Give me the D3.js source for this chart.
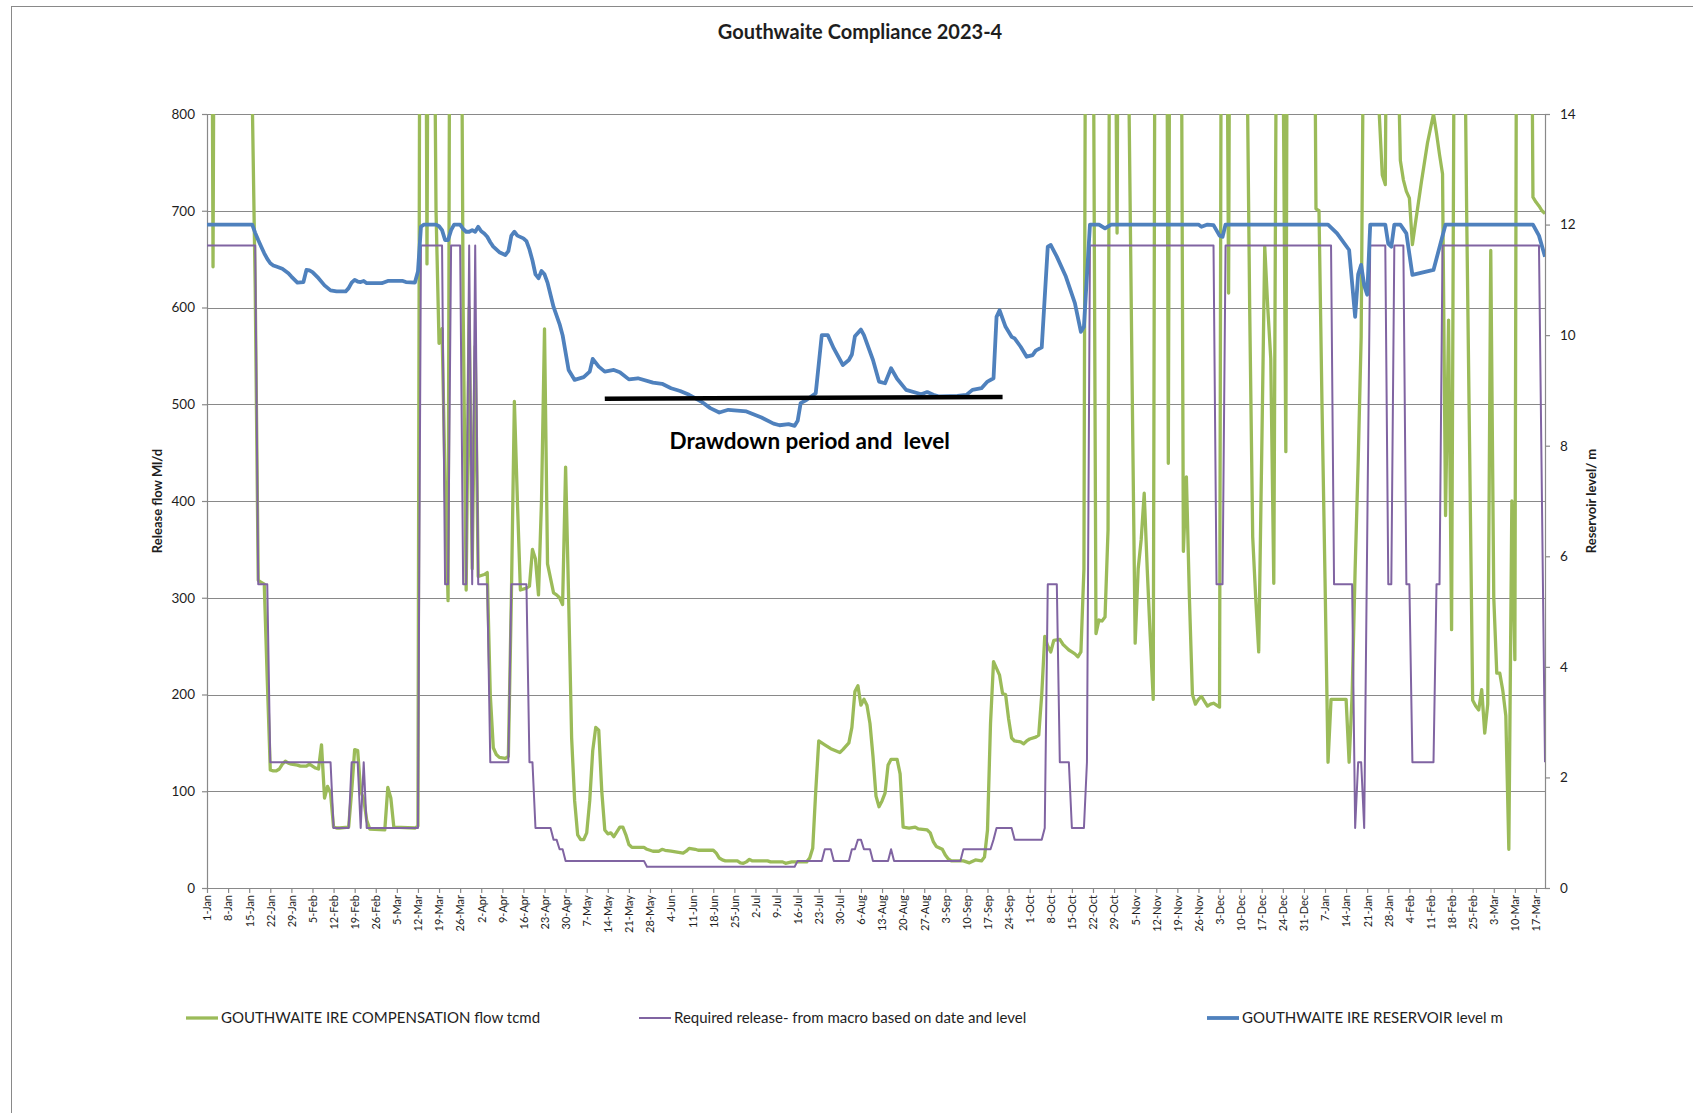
<!DOCTYPE html>
<html>
<head>
<meta charset="utf-8">
<title>Gouthwaite Compliance 2023-4</title>
<script src="https://cdn.jsdelivr.net/npm/d3@7"></script>
<style>
  html, body { margin: 0; padding: 0; background: #ffffff; }
  svg { display: block; font-family: Lato, 'Open Sans', sans-serif; }
</style>
</head>
<body>
<div id="chart"></div>
<script>
// Values (daily series, only turning points kept)
const compensationFlow = [
  ['1-Jan-23', 1500], ['2-Jan-23', 1500], ['3-Jan-23', 642], ['4-Jan-23', 1500], ['15-Jan-23', 1500],
  ['16-Jan-23', 820], ['17-Jan-23', 620], ['18-Jan-23', 318], ['19-Jan-23', 316], ['20-Jan-23', 314],
  ['21-Jan-23', 215], ['22-Jan-23', 122], ['23-Jan-23', 121], ['24-Jan-23', 121], ['25-Jan-23', 123],
  ['26-Jan-23', 128], ['27-Jan-23', 131], ['28-Jan-23', 129], ['29-Jan-23', 128], ['31-Jan-23', 127],
  ['1-Feb-23', 126], ['3-Feb-23', 126], ['4-Feb-23', 128], ['5-Feb-23', 126], ['6-Feb-23', 124],
  ['7-Feb-23', 123], ['8-Feb-23', 148], ['9-Feb-23', 93], ['10-Feb-23', 105], ['11-Feb-23', 98],
  ['12-Feb-23', 63], ['13-Feb-23', 62], ['14-Feb-23', 62], ['17-Feb-23', 63], ['18-Feb-23', 100],
  ['19-Feb-23', 143], ['20-Feb-23', 142], ['21-Feb-23', 100], ['22-Feb-23', 92], ['23-Feb-23', 70],
  ['24-Feb-23', 61], ['1-Mar-23', 60], ['2-Mar-23', 104], ['3-Mar-23', 93], ['4-Mar-23', 63],
  ['11-Mar-23', 62], ['12-Mar-23', 64], ['13-Mar-23', 1500], ['14-Mar-23', 1500], ['15-Mar-23', 645],
  ['16-Mar-23', 1500], ['17-Mar-23', 1100], ['18-Mar-23', 700], ['19-Mar-23', 563], ['20-Mar-23', 578],
  ['21-Mar-23', 420], ['22-Mar-23', 297], ['23-Mar-23', 1500], ['26-Mar-23', 1200], ['27-Mar-23', 600],
  ['28-Mar-23', 308], ['29-Mar-23', 600], ['30-Mar-23', 330], ['31-Mar-23', 560], ['1-Apr-23', 322],
  ['3-Apr-23', 324], ['4-Apr-23', 326], ['5-Apr-23', 200], ['6-Apr-23', 145], ['7-Apr-23', 138],
  ['8-Apr-23', 135], ['10-Apr-23', 134], ['11-Apr-23', 136], ['12-Apr-23', 300], ['13-Apr-23', 503],
  ['14-Apr-23', 400], ['15-Apr-23', 308], ['17-Apr-23', 310], ['18-Apr-23', 312], ['19-Apr-23', 350],
  ['20-Apr-23', 340], ['21-Apr-23', 303], ['22-Apr-23', 400], ['23-Apr-23', 578], ['24-Apr-23', 335],
  ['25-Apr-23', 320], ['26-Apr-23', 305], ['27-Apr-23', 303], ['28-Apr-23', 300], ['29-Apr-23', 293],
  ['30-Apr-23', 435], ['1-May-23', 300], ['2-May-23', 155], ['3-May-23', 90], ['4-May-23', 55],
  ['5-May-23', 50], ['6-May-23', 50], ['7-May-23', 57], ['8-May-23', 90], ['9-May-23', 142],
  ['10-May-23', 166], ['11-May-23', 163], ['12-May-23', 100], ['13-May-23', 60], ['14-May-23', 56],
  ['15-May-23', 57], ['16-May-23', 53], ['17-May-23', 58], ['18-May-23', 63], ['19-May-23', 63],
  ['20-May-23', 55], ['21-May-23', 45], ['22-May-23', 42], ['26-May-23', 42], ['27-May-23', 40],
  ['29-May-23', 38], ['31-May-23', 38], ['1-Jun-23', 40], ['2-Jun-23', 39], ['4-Jun-23', 38],
  ['6-Jun-23', 37], ['8-Jun-23', 36], ['9-Jun-23', 38], ['10-Jun-23', 41], ['12-Jun-23', 40],
  ['13-Jun-23', 39], ['18-Jun-23', 39], ['19-Jun-23', 36], ['20-Jun-23', 31], ['21-Jun-23', 29],
  ['22-Jun-23', 28], ['26-Jun-23', 28], ['27-Jun-23', 26], ['28-Jun-23', 25.5], ['29-Jun-23', 27],
  ['30-Jun-23', 29.6], ['1-Jul-23', 28], ['6-Jul-23', 28], ['7-Jul-23', 27], ['11-Jul-23', 27],
  ['12-Jul-23', 25.5], ['14-Jul-23', 27], ['19-Jul-23', 27], ['20-Jul-23', 31], ['21-Jul-23', 41],
  ['22-Jul-23', 100], ['23-Jul-23', 152], ['25-Jul-23', 148], ['27-Jul-23', 144], ['30-Jul-23', 140],
  ['31-Jul-23', 143], ['2-Aug-23', 150], ['3-Aug-23', 166], ['4-Aug-23', 203], ['5-Aug-23', 209],
  ['6-Aug-23', 189], ['7-Aug-23', 195], ['8-Aug-23', 189], ['9-Aug-23', 170], ['10-Aug-23', 136],
  ['11-Aug-23', 95], ['12-Aug-23', 84], ['13-Aug-23', 90], ['14-Aug-23', 98], ['15-Aug-23', 127],
  ['16-Aug-23', 133], ['18-Aug-23', 133], ['19-Aug-23', 118], ['20-Aug-23', 63], ['22-Aug-23', 62],
  ['24-Aug-23', 63], ['25-Aug-23', 61], ['28-Aug-23', 60], ['29-Aug-23', 57], ['30-Aug-23', 48],
  ['31-Aug-23', 43], ['2-Sep-23', 40], ['3-Sep-23', 34], ['4-Sep-23', 30], ['5-Sep-23', 28],
  ['9-Sep-23', 28], ['11-Sep-23', 26], ['13-Sep-23', 29], ['15-Sep-23', 28], ['16-Sep-23', 32],
  ['17-Sep-23', 60], ['18-Sep-23', 170], ['19-Sep-23', 234], ['20-Sep-23', 227], ['21-Sep-23', 220],
  ['22-Sep-23', 201], ['23-Sep-23', 200], ['24-Sep-23', 175], ['25-Sep-23', 155], ['26-Sep-23', 152],
  ['28-Sep-23', 151], ['29-Sep-23', 149], ['30-Sep-23', 152], ['1-Oct-23', 154], ['3-Oct-23', 156],
  ['4-Oct-23', 158], ['5-Oct-23', 200], ['6-Oct-23', 260], ['7-Oct-23', 250], ['8-Oct-23', 244],
  ['9-Oct-23', 256], ['11-Oct-23', 257], ['12-Oct-23', 252], ['13-Oct-23', 249], ['14-Oct-23', 246],
  ['15-Oct-23', 244], ['16-Oct-23', 242], ['17-Oct-23', 239], ['18-Oct-23', 244], ['19-Oct-23', 330],
  ['20-Oct-23', 1500], ['22-Oct-23', 1000], ['23-Oct-23', 263], ['24-Oct-23', 277], ['25-Oct-23', 276],
  ['26-Oct-23', 280], ['27-Oct-23', 370], ['28-Oct-23', 1500], ['29-Oct-23', 1100], ['30-Oct-23', 677],
  ['31-Oct-23', 1500], ['2-Nov-23', 1200], ['3-Nov-23', 800], ['4-Nov-23', 520], ['5-Nov-23', 253],
  ['6-Nov-23', 330], ['7-Nov-23', 360], ['8-Nov-23', 408], ['9-Nov-23', 330], ['10-Nov-23', 260],
  ['11-Nov-23', 195], ['12-Nov-23', 1500], ['15-Nov-23', 1500], ['16-Nov-23', 439], ['17-Nov-23', 1500],
  ['20-Nov-23', 1200], ['21-Nov-23', 348], ['22-Nov-23', 425], ['23-Nov-23', 300], ['24-Nov-23', 200],
  ['25-Nov-23', 190], ['26-Nov-23', 195], ['27-Nov-23', 198], ['28-Nov-23', 193], ['29-Nov-23', 188],
  ['30-Nov-23', 190], ['1-Dec-23', 191], ['2-Dec-23', 189], ['3-Dec-23', 187], ['4-Dec-23', 1500],
  ['5-Dec-23', 1200], ['6-Dec-23', 615], ['7-Dec-23', 1500], ['11-Dec-23', 1300], ['12-Dec-23', 900],
  ['13-Dec-23', 600], ['14-Dec-23', 363], ['15-Dec-23', 300], ['16-Dec-23', 244], ['17-Dec-23', 450],
  ['18-Dec-23', 663], ['19-Dec-23', 600], ['20-Dec-23', 547], ['21-Dec-23', 315], ['22-Dec-23', 1000],
  ['23-Dec-23', 1500], ['24-Dec-23', 900], ['25-Dec-23', 451], ['26-Dec-23', 1500], ['3-Jan-24', 1200],
  ['4-Jan-24', 702], ['5-Jan-24', 700], ['6-Jan-24', 500], ['7-Jan-24', 320], ['8-Jan-24', 130],
  ['9-Jan-24', 195], ['14-Jan-24', 195], ['15-Jan-24', 130], ['16-Jan-24', 200], ['17-Jan-24', 330],
  ['18-Jan-24', 440], ['19-Jan-24', 570], ['20-Jan-24', 1000], ['21-Jan-24', 1500], ['24-Jan-24', 1300],
  ['25-Jan-24', 800], ['26-Jan-24', 737], ['27-Jan-24', 727], ['28-Jan-24', 1200], ['30-Jan-24', 1500],
  ['31-Jan-24', 900], ['1-Feb-24', 752], ['2-Feb-24', 732], ['3-Feb-24', 720], ['4-Feb-24', 713],
  ['5-Feb-24', 665], ['6-Feb-24', 687], ['8-Feb-24', 730], ['10-Feb-24', 770], ['12-Feb-24', 800],
  ['13-Feb-24', 780], ['14-Feb-24', 758], ['15-Feb-24', 738], ['16-Feb-24', 385], ['17-Feb-24', 587],
  ['18-Feb-24', 267], ['19-Feb-24', 1000], ['20-Feb-24', 1500], ['22-Feb-24', 1000], ['23-Feb-24', 700],
  ['24-Feb-24', 450], ['25-Feb-24', 194], ['26-Feb-24', 188], ['27-Feb-24', 184], ['28-Feb-24', 205],
  ['29-Feb-24', 160], ['1-Mar-24', 190], ['2-Mar-24', 659], ['3-Mar-24', 300], ['4-Mar-24', 222],
  ['5-Mar-24', 222], ['6-Mar-24', 204], ['7-Mar-24', 178], ['8-Mar-24', 40], ['9-Mar-24', 400],
  ['10-Mar-24', 236], ['11-Mar-24', 1500], ['15-Mar-24', 1200], ['16-Mar-24', 714], ['17-Mar-24', 709],
  ['18-Mar-24', 705], ['19-Mar-24', 700], ['20-Mar-24', 697]
];

const requiredRelease = [
  ['1-Jan-23', 664], ['17-Jan-23', 664], ['18-Jan-23', 314], ['21-Jan-23', 314], ['22-Jan-23', 130],
  ['11-Feb-23', 130], ['12-Feb-23', 62], ['17-Feb-23', 62], ['18-Feb-23', 130], ['20-Feb-23', 130],
  ['21-Feb-23', 62], ['22-Feb-23', 130], ['23-Feb-23', 62], ['12-Mar-23', 62], ['13-Mar-23', 664],
  ['20-Mar-23', 664], ['21-Mar-23', 314], ['22-Mar-23', 314], ['23-Mar-23', 664], ['26-Mar-23', 664],
  ['27-Mar-23', 314], ['28-Mar-23', 314], ['29-Mar-23', 664], ['30-Mar-23', 314], ['31-Mar-23', 664],
  ['1-Apr-23', 314], ['4-Apr-23', 314], ['5-Apr-23', 130], ['11-Apr-23', 130], ['12-Apr-23', 314],
  ['17-Apr-23', 314], ['18-Apr-23', 130], ['19-Apr-23', 130], ['20-Apr-23', 62], ['25-Apr-23', 62],
  ['26-Apr-23', 50], ['27-Apr-23', 50], ['28-Apr-23', 40], ['29-Apr-23', 40], ['30-Apr-23', 28],
  ['26-May-23', 28], ['27-May-23', 22], ['15-Jul-23', 22], ['16-Jul-23', 28], ['24-Jul-23', 28],
  ['25-Jul-23', 40], ['27-Jul-23', 40], ['28-Jul-23', 28], ['2-Aug-23', 28], ['3-Aug-23', 40],
  ['4-Aug-23', 40], ['5-Aug-23', 50], ['6-Aug-23', 50], ['7-Aug-23', 40], ['9-Aug-23', 40],
  ['10-Aug-23', 28], ['15-Aug-23', 28], ['16-Aug-23', 40], ['17-Aug-23', 28], ['8-Sep-23', 28],
  ['9-Sep-23', 40], ['18-Sep-23', 40], ['19-Sep-23', 50], ['20-Sep-23', 62], ['25-Sep-23', 62],
  ['26-Sep-23', 50], ['5-Oct-23', 50], ['6-Oct-23', 62], ['7-Oct-23', 314], ['10-Oct-23', 314],
  ['11-Oct-23', 130], ['14-Oct-23', 130], ['15-Oct-23', 62], ['19-Oct-23', 62], ['20-Oct-23', 130],
  ['21-Oct-23', 664], ['1-Dec-23', 664], ['2-Dec-23', 314], ['4-Dec-23', 314], ['5-Dec-23', 664],
  ['9-Jan-24', 664], ['10-Jan-24', 314], ['16-Jan-24', 314], ['17-Jan-24', 62], ['18-Jan-24', 130],
  ['19-Jan-24', 130], ['20-Jan-24', 62], ['22-Jan-24', 664], ['27-Jan-24', 664], ['28-Jan-24', 314],
  ['29-Jan-24', 314], ['30-Jan-24', 664], ['2-Feb-24', 664], ['3-Feb-24', 314], ['4-Feb-24', 314],
  ['5-Feb-24', 130], ['12-Feb-24', 130], ['13-Feb-24', 314], ['14-Feb-24', 314], ['15-Feb-24', 664],
  ['18-Mar-24', 664], ['20-Mar-24', 130]
];

const reservoirLevel = [
  ['1-Jan-23', 12.0], ['16-Jan-23', 12.0], ['17-Jan-23', 11.85], ['18-Jan-23', 11.72], ['19-Jan-23', 11.6],
  ['20-Jan-23', 11.48], ['21-Jan-23', 11.38], ['22-Jan-23', 11.3], ['23-Jan-23', 11.26], ['24-Jan-23', 11.24],
  ['26-Jan-23', 11.2], ['28-Jan-23', 11.12], ['29-Jan-23', 11.06], ['31-Jan-23', 10.95], ['2-Feb-23', 10.96],
  ['3-Feb-23', 11.18], ['4-Feb-23', 11.17], ['5-Feb-23', 11.14], ['7-Feb-23', 11.03], ['9-Feb-23', 10.9],
  ['11-Feb-23', 10.81], ['13-Feb-23', 10.79], ['16-Feb-23', 10.79], ['17-Feb-23', 10.85], ['18-Feb-23', 10.95],
  ['19-Feb-23', 11.0], ['20-Feb-23', 10.97], ['21-Feb-23', 10.96], ['22-Feb-23', 10.98], ['23-Feb-23', 10.94],
  ['28-Feb-23', 10.94], ['2-Mar-23', 10.98], ['7-Mar-23', 10.98], ['8-Mar-23', 10.96], ['11-Mar-23', 10.95],
  ['12-Mar-23', 11.15], ['13-Mar-23', 11.96], ['14-Mar-23', 12.0], ['18-Mar-23', 12.0], ['19-Mar-23', 11.97],
  ['20-Mar-23', 11.9], ['21-Mar-23', 11.72], ['22-Mar-23', 11.72], ['23-Mar-23', 11.9], ['24-Mar-23', 12.0],
  ['26-Mar-23', 12.0], ['27-Mar-23', 11.92], ['28-Mar-23', 11.87], ['29-Mar-23', 11.87], ['30-Mar-23', 11.9],
  ['31-Mar-23', 11.87], ['1-Apr-23', 11.96], ['2-Apr-23', 11.88], ['3-Apr-23', 11.84], ['4-Apr-23', 11.78],
  ['5-Apr-23', 11.68], ['6-Apr-23', 11.6], ['8-Apr-23', 11.5], ['10-Apr-23', 11.45], ['11-Apr-23', 11.52],
  ['12-Apr-23', 11.8], ['13-Apr-23', 11.87], ['14-Apr-23', 11.8], ['16-Apr-23', 11.75], ['17-Apr-23', 11.7],
  ['18-Apr-23', 11.55], ['19-Apr-23', 11.35], ['20-Apr-23', 11.1], ['21-Apr-23', 11.03], ['22-Apr-23', 11.16],
  ['23-Apr-23', 11.1], ['24-Apr-23', 10.95], ['26-Apr-23', 10.51], ['28-Apr-23', 10.2], ['29-Apr-23', 10.0],
  ['1-May-23', 9.37], ['3-May-23', 9.19], ['6-May-23', 9.24], ['8-May-23', 9.34], ['9-May-23', 9.57],
  ['11-May-23', 9.43], ['13-May-23', 9.34], ['16-May-23', 9.37], ['18-May-23', 9.33], ['21-May-23', 9.2],
  ['24-May-23', 9.22], ['29-May-23', 9.14], ['1-Jun-23', 9.12], ['4-Jun-23', 9.04], ['7-Jun-23', 8.99],
  ['10-Jun-23', 8.92], ['14-Jun-23', 8.8], ['17-Jun-23', 8.68], ['20-Jun-23', 8.6], ['23-Jun-23', 8.65],
  ['27-Jun-23', 8.63], ['29-Jun-23', 8.62], ['4-Jul-23', 8.51], ['8-Jul-23', 8.4], ['10-Jul-23', 8.37],
  ['13-Jul-23', 8.39], ['15-Jul-23', 8.36], ['16-Jul-23', 8.45], ['17-Jul-23', 8.77], ['19-Jul-23', 8.83],
  ['22-Jul-23', 8.95], ['24-Jul-23', 10.0], ['26-Jul-23', 10.0], ['28-Jul-23', 9.76], ['31-Jul-23', 9.46],
  ['2-Aug-23', 9.55], ['3-Aug-23', 9.65], ['4-Aug-23', 9.98], ['6-Aug-23', 10.1], ['7-Aug-23', 10.0],
  ['10-Aug-23', 9.55], ['12-Aug-23', 9.16], ['14-Aug-23', 9.13], ['16-Aug-23', 9.4], ['18-Aug-23', 9.21],
  ['21-Aug-23', 9.01], ['26-Aug-23', 8.93], ['28-Aug-23', 8.97], ['30-Aug-23', 8.92], ['1-Sep-23', 8.89],
  ['7-Sep-23', 8.9], ['10-Sep-23', 8.92], ['12-Sep-23', 9.01], ['15-Sep-23', 9.04], ['17-Sep-23', 9.16],
  ['19-Sep-23', 9.22], ['20-Sep-23', 10.33], ['21-Sep-23', 10.45], ['23-Sep-23', 10.15], ['25-Sep-23', 9.97],
  ['26-Sep-23', 9.94], ['28-Sep-23', 9.79], ['30-Sep-23', 9.61], ['2-Oct-23', 9.64], ['3-Oct-23', 9.72],
  ['5-Oct-23', 9.78], ['7-Oct-23', 11.6], ['8-Oct-23', 11.63], ['10-Oct-23', 11.42], ['13-Oct-23', 11.06],
  ['16-Oct-23', 10.58], ['18-Oct-23', 10.06], ['19-Oct-23', 10.15], ['21-Oct-23', 12.0], ['24-Oct-23', 12.0],
  ['26-Oct-23', 11.93], ['28-Oct-23', 12.0], ['26-Nov-23', 12.0], ['27-Nov-23', 11.96], ['29-Nov-23', 12.0],
  ['1-Dec-23', 11.99], ['3-Dec-23', 11.8], ['4-Dec-23', 11.78], ['5-Dec-23', 12.0], ['8-Jan-24', 12.0],
  ['11-Jan-24', 11.84], ['15-Jan-24', 11.54], ['17-Jan-24', 10.33], ['18-Jan-24', 11.1], ['19-Jan-24', 11.27],
  ['20-Jan-24', 10.9], ['21-Jan-24', 10.73], ['22-Jan-24', 12.0], ['27-Jan-24', 12.0], ['28-Jan-24', 11.65],
  ['29-Jan-24', 11.6], ['30-Jan-24', 12.0], ['1-Feb-24', 12.0], ['3-Feb-24', 11.84], ['5-Feb-24', 11.09],
  ['12-Feb-24', 11.18], ['16-Feb-24', 12.0], ['16-Mar-24', 12.0], ['18-Mar-24', 11.8], ['20-Mar-24', 11.42]
];

const flowTicks = [0, 100, 200, 300, 400, 500, 600, 700, 800];
const levelTicks = [0, 2, 4, 6, 8, 10, 12, 14];
const axisDates = ['1-Jan-23', '20-Mar-24'];   // first and last day on the category axis
const drawdownDates = ['13-May-23', '22-Sep-23'];
const drawdownLevels = [8.85, 8.88];           // m, drawn against the level axis

const seriesInfo = [
  { name: 'GOUTHWAITE IRE COMPENSATION flow tcmd', color: '#9bbb59', width: 3.3 },
  { name: 'Required release- from macro based on date and level', color: '#8064a2', width: 2 },
  { name: 'GOUTHWAITE IRE RESERVOIR level m', color: '#4f81bd', width: 3.8 },
];

// ---- layout ----
const width = 1693;
const height = 1113;
const margin = { top: 114, right: 148, bottom: 225, left: 207 };
const innerW = width - margin.left - margin.right;
const innerH = height - margin.top - margin.bottom;
const gridColor = '#898989';
const textColor = '#1e1e1e';

const parseDate = d3.utcParse('%d-%b-%y');
const toPoints = (rows) => rows.map(([d, v]) => ({ date: parseDate(d), value: v }));

const flow = toPoints(compensationFlow);
const required = toPoints(requiredRelease);
const level = toPoints(reservoirLevel);

const svg = d3.select('#chart')
  .append('svg')
  .attr('width', width)
  .attr('height', height);

svg.append('rect')
  .attr('width', width)
  .attr('height', height)
  .attr('fill', '#ffffff');

// chart area border (runs off the right and bottom of the page)
svg.append('rect')
  .attr('x', 11.5)
  .attr('y', 6.5)
  .attr('width', width + 20)
  .attr('height', height + 20)
  .attr('fill', 'none')
  .attr('stroke', gridColor)
  .attr('stroke-width', 1);

svg.append('text')
  .attr('x', 860)
  .attr('y', 39)
  .attr('text-anchor', 'middle')
  .attr('font-size', '20px')
  .attr('font-weight', 700)
  .attr('fill', textColor)
  .text('Gouthwaite Compliance 2023-4');

const g = svg.append('g')
  .attr('transform', `translate(${margin.left},${margin.top})`);

// Scales
const x = d3.scaleUtc()
  .domain(axisDates.map(parseDate))
  .range([0, innerW]);

const yFlow = d3.scaleLinear()
  .domain([0, 800])
  .range([innerH, 0]);

const yLevel = d3.scaleLinear()
  .domain([0, 14])
  .range([innerH, 0]);

// Gridlines
g.append('g')
  .selectAll('line')
  .data(flowTicks.filter((t) => t > 0))
  .enter()
  .append('line')
  .attr('x1', 0)
  .attr('x2', innerW)
  .attr('y1', (d) => Math.round(yFlow(d)) + 0.5)
  .attr('y2', (d) => Math.round(yFlow(d)) + 0.5)
  .attr('stroke', gridColor)
  .attr('stroke-width', 1.2);

// Axes
const weekTicks = d3.utcDay.range(x.domain()[0], d3.utcDay.offset(x.domain()[1], 1), 7);

const xAxis = g.append('g')
  .attr('transform', `translate(0,${innerH})`)
  .call(d3.axisBottom(x).tickValues(weekTicks).tickFormat(d3.utcFormat('%-d-%b')).tickSize(5).tickSizeOuter(0));

xAxis.selectAll('text')
  .attr('transform', 'rotate(-90)')
  .attr('x', -7)
  .attr('y', 0)
  .attr('dy', '0.35em')
  .style('text-anchor', 'end')
  .attr('font-size', '11px');

const leftAxis = g.append('g')
  .call(d3.axisLeft(yFlow).tickValues(flowTicks).tickSize(5).tickSizeOuter(0).tickPadding(7));
leftAxis.selectAll('text').attr('font-size', '13.5px');

const rightAxis = g.append('g')
  .attr('transform', `translate(${innerW},0)`)
  .call(d3.axisRight(yLevel).tickValues(levelTicks).tickSize(5).tickSizeOuter(0).tickPadding(10));
rightAxis.selectAll('text').attr('font-size', '13.5px');

[xAxis, leftAxis, rightAxis].forEach((axis) => {
  axis.attr('font-family', null);
  axis.selectAll('.domain, line').attr('stroke', gridColor).attr('stroke-width', 1.2);
  axis.selectAll('text').attr('fill', textColor);
});

// Axis titles
svg.append('text')
  .attr('transform', `translate(157,${margin.top + innerH / 2}) rotate(-90)`)
  .attr('text-anchor', 'middle')
  .attr('dy', '0.35em')
  .attr('font-size', '13px')
  .attr('font-weight', 700)
  .attr('fill', textColor)
  .text('Release flow Ml/d');

svg.append('text')
  .attr('transform', `translate(1591,${margin.top + innerH / 2}) rotate(-90)`)
  .attr('text-anchor', 'middle')
  .attr('dy', '0.35em')
  .attr('font-size', '13px')
  .attr('font-weight', 700)
  .attr('fill', textColor)
  .text('Reservoir level/ m');

// Series (clipped to the plot area, as Excel does with a fixed axis maximum)
svg.append('defs')
  .append('clipPath')
  .attr('id', 'plot-clip')
  .append('rect')
  .attr('width', innerW)
  .attr('height', innerH);

const plot = g.append('g').attr('clip-path', 'url(#plot-clip)');

const flowLine = d3.line()
  .x((d) => x(d.date))
  .y((d) => yFlow(d.value));

const levelLine = d3.line()
  .x((d) => x(d.date))
  .y((d) => yLevel(d.value));

[
  { data: flow, line: flowLine, info: seriesInfo[0] },
  { data: required, line: flowLine, info: seriesInfo[1] },
  { data: level, line: levelLine, info: seriesInfo[2] },
].forEach((s) => {
  plot.append('path')
    .datum(s.data)
    .attr('fill', 'none')
    .attr('stroke', s.info.color)
    .attr('stroke-width', s.info.width)
    .attr('stroke-linejoin', 'round')
    .attr('d', s.line);
});

// Drawdown annotation
const ddX = drawdownDates.map((d) => x(parseDate(d)));
const ddY = drawdownLevels.map((v) => yLevel(v));

g.append('line')
  .attr('x1', ddX[0])
  .attr('x2', ddX[1])
  .attr('y1', ddY[0])
  .attr('y2', ddY[1])
  .attr('stroke', '#000000')
  .attr('stroke-width', 4.5);

g.append('text')
  .attr('x', (ddX[0] + ddX[1]) / 2 + 6)
  .attr('y', ddY[0] + 50)
  .attr('text-anchor', 'middle')
  .attr('font-size', '22.5px')
  .attr('font-weight', 700)
  .attr('fill', '#000000')
  .style('white-space', 'pre')
  .text('Drawdown period and  level');

// Legend
const legendX = [186, 639, 1207];
const legend = svg.append('g').attr('transform', 'translate(0,1018)');

seriesInfo.forEach((s, i) => {
  const row = legend.append('g').attr('transform', `translate(${legendX[i]},0)`);

  row.append('line')
    .attr('x1', 0)
    .attr('x2', 32)
    .attr('stroke', s.color)
    .attr('stroke-width', s.width);

  row.append('text')
    .attr('x', 35)
    .attr('dy', '0.35em')
    .attr('font-size', '15px')
    .attr('fill', textColor)
    .text(s.name);
});
</script>
</body>
</html>
